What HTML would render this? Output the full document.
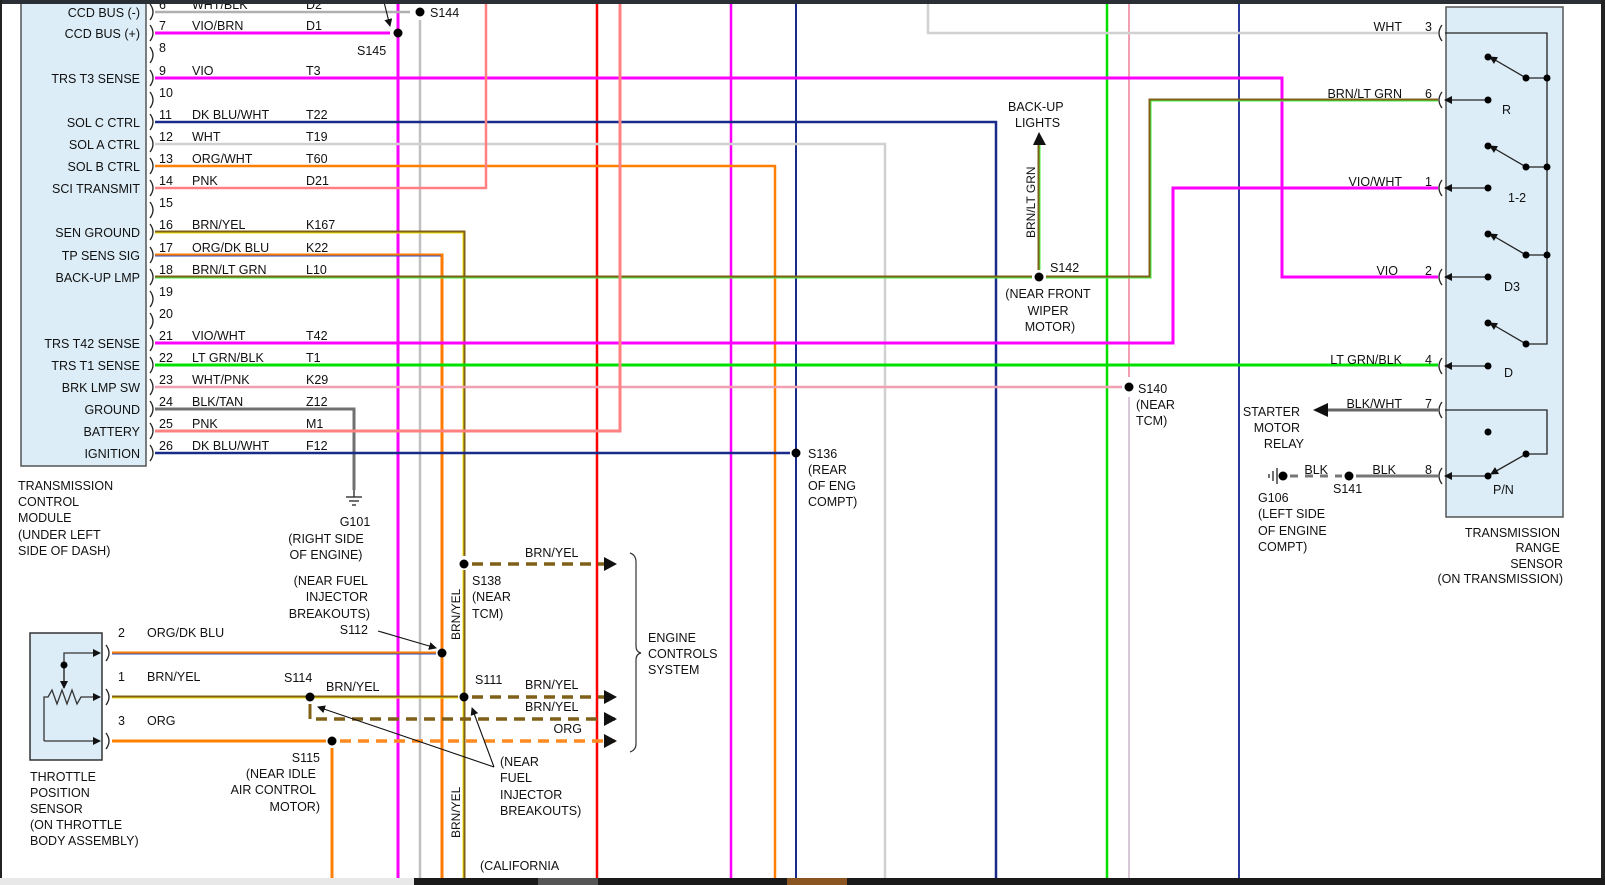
<!DOCTYPE html>
<html><head><meta charset="utf-8"><style>
html,body{margin:0;padding:0;background:#fff}
svg{display:block}
text{font-family:"Liberation Sans",Arial,sans-serif;font-size:12.5px;fill:#111}
</style></head><body>
<svg width="1605" height="885" viewBox="0 0 1605 885" xmlns="http://www.w3.org/2000/svg">
<defs>
<marker id="ah" markerWidth="8" markerHeight="8" refX="7" refY="4" orient="auto" markerUnits="userSpaceOnUse"><path d="M0,0 L8,4 L0,8 z" fill="#111"/></marker>
</defs>
<rect width="1605" height="885" fill="#fff"/>
<!-- boxes -->
<rect x="21" y="0" width="125" height="466" fill="#dcedf7" stroke="#555" stroke-width="1.5"/>
<rect x="1446" y="7" width="117" height="510" fill="#dcedf7" stroke="#555" stroke-width="1.5"/>
<rect x="30" y="633" width="72" height="127" fill="#dcedf7" stroke="#333" stroke-width="1.5"/>

<g fill="none" stroke-linejoin="miter">
<line x1="398" y1="3" x2="398" y2="885" stroke="#ff00ff" stroke-width="3"/>
<line x1="420" y1="20" x2="420" y2="885" stroke="#c0c0c0" stroke-width="2.5"/>
<line x1="597" y1="3" x2="597" y2="885" stroke="#ff0000" stroke-width="2.5"/>
<line x1="731" y1="3" x2="731" y2="885" stroke="#ff00ff" stroke-width="2.5"/>
<line x1="796" y1="3" x2="796" y2="885" stroke="#1a2a8a" stroke-width="2"/>
<line x1="1107" y1="3" x2="1107" y2="885" stroke="#00e000" stroke-width="2.5"/>
<line x1="1129" y1="3" x2="1129" y2="377" stroke="#f0a0b0" stroke-width="2"/>
<line x1="1129" y1="397" x2="1129" y2="885" stroke="#d8c8d8" stroke-width="2"/>
<line x1="1239" y1="3" x2="1239" y2="885" stroke="#2a3a9a" stroke-width="2"/>
<polyline points="928,3 928,33 1438,33" stroke="#d0d0d0" stroke-width="2.5"/>

<polyline points="155,12 410,12" stroke="#b0b0b0" stroke-width="2.5"/>
<polyline points="155,33 390,33" stroke="#ff00ff" stroke-width="3"/>
<polyline points="155,78 1282,78 1282,277 1438,277" stroke="#ff00ff" stroke-width="3"/>
<polyline points="155,122 996,122 996,885" stroke="#1a2a8a" stroke-width="2.5"/>
<polyline points="155,144 885,144 885,885" stroke="#d0d0d0" stroke-width="2.5"/>
<polyline points="155,166 775,166 775,885" stroke="#ff8000" stroke-width="2.5"/>
<polyline points="155,188 486,188 486,3" stroke="#ff8080" stroke-width="2.5"/>
<polyline points="155,232 464,232 464,556" stroke="#806018" stroke-width="3"/>
<polyline points="155,233 463,233 463,556" stroke="#f0e000" stroke-width="1"/>
<polyline points="155,255 442,255 442,885" stroke="#ff7a00" stroke-width="3"/>
<polyline points="155,256 441,256" stroke="#3050c0" stroke-width="1"/>
<polyline points="155,277 1032,277" stroke="#806018" stroke-width="3"/>
<polyline points="1046,277 1150,277 1150,100 1438,100" stroke="#806018" stroke-width="3"/>
<polyline points="155,278 1032,278" stroke="#40f040" stroke-width="1"/>
<polyline points="1046,278 1151,278 1151,101 1438,101" stroke="#40f040" stroke-width="1"/>
<line x1="1039" y1="270" x2="1039" y2="145" stroke="#806018" stroke-width="3"/>
<line x1="1040" y1="270" x2="1040" y2="145" stroke="#40f040" stroke-width="1"/>
<polyline points="155,343 1173,343 1173,188 1438,188" stroke="#ff00ff" stroke-width="3"/>
<polyline points="155,365 1438,365" stroke="#00e000" stroke-width="3"/>
<polyline points="155,387 1122,387" stroke="#f0a0b0" stroke-width="2.5"/>
<polyline points="155,409 354,409 354,490" stroke="#707070" stroke-width="3"/>
<polyline points="155,431 620,431 620,3" stroke="#ff8080" stroke-width="3"/>
<polyline points="155,453 790,453" stroke="#1a2a8a" stroke-width="2.5"/>

<polyline points="112,653 436,653" stroke="#ff7a00" stroke-width="3"/>
<polyline points="112,654 436,654" stroke="#3050c0" stroke-width="1"/>
<polyline points="112,697 458,697" stroke="#806018" stroke-width="3"/>
<polyline points="112,698 458,698" stroke="#f0e000" stroke-width="1"/>
<line x1="464" y1="570" x2="464" y2="885" stroke="#806018" stroke-width="3"/>
<line x1="463" y1="570" x2="463" y2="885" stroke="#f0e000" stroke-width="1"/>
<polyline points="112,741 326,741" stroke="#ff8000" stroke-width="3"/>
<line x1="332" y1="748" x2="332" y2="885" stroke="#ff8000" stroke-width="3"/>
<line x1="310" y1="704" x2="310" y2="719" stroke="#806018" stroke-width="3"/>
<g stroke-dasharray="11,7" stroke-width="3.5">
<line x1="472" y1="564" x2="615" y2="564" stroke="#806018"/>
<line x1="472" y1="697" x2="615" y2="697" stroke="#806018"/>
<line x1="316" y1="719" x2="615" y2="719" stroke="#806018"/>
<line x1="340" y1="741" x2="615" y2="741" stroke="#ff8a20"/>
</g>
<path d="M630,553 Q636,555 636,562 L636,646 Q636,652 641,653 Q636,654 636,660 L636,744 Q636,750 630,752" stroke="#333" stroke-width="1.2"/>

<line x1="1325" y1="410" x2="1438" y2="410" stroke="#666" stroke-width="3"/>
<line x1="1356" y1="476" x2="1438" y2="476" stroke="#777" stroke-width="3"/>
<line x1="1290" y1="476" x2="1342" y2="476" stroke="#777" stroke-width="3" stroke-dasharray="8,7"/>

<g stroke="#222" stroke-width="1.3">
<path d="M150,4 Q156,12 150,20"/><path d="M150,25 Q156,33 150,41"/><path d="M150,47 Q156,55 150,63"/>
<path d="M150,70 Q156,78 150,86"/><path d="M150,92 Q156,100 150,108"/><path d="M150,114 Q156,122 150,130"/>
<path d="M150,136 Q156,144 150,152"/><path d="M150,158 Q156,166 150,174"/><path d="M150,180 Q156,188 150,196"/>
<path d="M150,202 Q156,210 150,218"/><path d="M150,224 Q156,232 150,240"/><path d="M150,247 Q156,255 150,263"/>
<path d="M150,269 Q156,277 150,285"/><path d="M150,291 Q156,299 150,307"/><path d="M150,313 Q156,321 150,329"/>
<path d="M150,335 Q156,343 150,351"/><path d="M150,357 Q156,365 150,373"/><path d="M150,379 Q156,387 150,395"/>
<path d="M150,401 Q156,409 150,417"/><path d="M150,423 Q156,431 150,439"/><path d="M150,445 Q156,453 150,461"/>
<path d="M106,645 Q112,653 106,661"/><path d="M106,689 Q112,697 106,705"/><path d="M106,733 Q112,741 106,749"/>
<path d="M1442,25 Q1436,33 1442,41"/><path d="M1442,92 Q1436,100 1442,108"/><path d="M1442,180 Q1436,188 1442,196"/>
<path d="M1442,269 Q1436,277 1442,285"/><path d="M1442,358 Q1436,366 1442,374"/><path d="M1442,402 Q1436,410 1442,418"/>
<path d="M1442,468 Q1436,476 1442,484"/>
</g>

<g stroke="#333" stroke-width="1.3">
<polyline points="64,688 64,653 100,653" marker-end="url(#ah)"/>
<polyline points="44,741 44,697 48,697 52,690 57,704 62,690 67,704 72,690 77,704 81,697 100,697" marker-end="url(#ah)"/>
<polyline points="44,741 100,741" marker-end="url(#ah)"/>
<line x1="64" y1="665" x2="64" y2="688" marker-end="url(#ah)"/>
</g>

<g stroke="#222" stroke-width="1.3">
<polyline points="1445,33 1547,33 1547,344 1526,344"/>
<line x1="1526" y1="78" x2="1547" y2="78"/><line x1="1526" y1="167" x2="1547" y2="167"/><line x1="1526" y1="255" x2="1547" y2="255"/>
<line x1="1526" y1="78" x2="1490" y2="57" marker-end="url(#ah)"/>
<line x1="1526" y1="167" x2="1490" y2="146" marker-end="url(#ah)"/>
<line x1="1526" y1="255" x2="1490" y2="234" marker-end="url(#ah)"/>
<line x1="1526" y1="344" x2="1490" y2="323" marker-end="url(#ah)"/>
<line x1="1488" y1="100" x2="1445" y2="100" marker-end="url(#ah)"/>
<line x1="1488" y1="188" x2="1445" y2="188" marker-end="url(#ah)"/>
<line x1="1488" y1="277" x2="1445" y2="277" marker-end="url(#ah)"/>
<line x1="1488" y1="366" x2="1445" y2="366" marker-end="url(#ah)"/>
<polyline points="1445,410 1547,410 1547,454 1526,454"/>
<line x1="1526" y1="454" x2="1491" y2="474" marker-end="url(#ah)"/>
<line x1="1488" y1="476" x2="1445" y2="476" marker-end="url(#ah)"/>
</g>
<g stroke="#111" stroke-width="1.1">
<line x1="384" y1="2" x2="390" y2="26" marker-end="url(#ah)"/>
<line x1="378" y1="631" x2="436" y2="648" marker-end="url(#ah)"/>
<line x1="494" y1="767" x2="318" y2="707" marker-end="url(#ah)"/>
<line x1="494" y1="767" x2="472" y2="708" marker-end="url(#ah)"/>
</g>
</g>

<g fill="#111">
<path d="M604,557 L617,564 L604,571 z"/><path d="M604,690 L617,697 L604,704 z"/>
<path d="M604,712 L617,719 L604,726 z"/><path d="M604,734 L617,741 L604,748 z"/>
<path d="M1033,145 L1039,132 L1046,145 z"/>
<path d="M1328,403 L1313,410 L1328,417 z"/>
</g>
<g fill="#000">
<circle cx="420" cy="12" r="4.5"/><circle cx="398" cy="33" r="4.5"/>
<circle cx="1039" cy="277" r="4.5"/><circle cx="1129" cy="387" r="4.5"/><circle cx="796" cy="453" r="4.5"/>
<circle cx="1349" cy="476" r="4.5"/><circle cx="1283" cy="476" r="4.5"/>
<circle cx="464" cy="564" r="4.5"/><circle cx="442" cy="653" r="4.5"/><circle cx="464" cy="697" r="4.5"/>
<circle cx="310" cy="697" r="4.5"/><circle cx="332" cy="741" r="4.5"/>
<circle cx="64" cy="665" r="3.5"/>
<circle cx="1488" cy="57" r="3.5"/><circle cx="1526" cy="78" r="3.5"/><circle cx="1547" cy="78" r="3.5"/><circle cx="1488" cy="100" r="3.5"/>
<circle cx="1488" cy="146" r="3.5"/><circle cx="1526" cy="167" r="3.5"/><circle cx="1547" cy="167" r="3.5"/><circle cx="1488" cy="188" r="3.5"/>
<circle cx="1488" cy="234" r="3.5"/><circle cx="1526" cy="255" r="3.5"/><circle cx="1547" cy="255" r="3.5"/><circle cx="1488" cy="277" r="3.5"/>
<circle cx="1488" cy="323" r="3.5"/><circle cx="1526" cy="344" r="3.5"/><circle cx="1488" cy="366" r="3.5"/>
<circle cx="1488" cy="432" r="3.5"/><circle cx="1526" cy="454" r="3.5"/><circle cx="1488" cy="476" r="3.5"/>
</g>
<g stroke="#222" stroke-width="1.3">
<line x1="346" y1="497" x2="362" y2="497"/><line x1="349" y1="501" x2="359" y2="501"/><line x1="352" y1="505" x2="356" y2="505"/>
<line x1="354" y1="490" x2="354" y2="497"/>
<line x1="1277" y1="468" x2="1277" y2="484"/><line x1="1273" y1="471" x2="1273" y2="481"/><line x1="1269" y1="474" x2="1269" y2="478"/>
</g>

<g text-anchor="end">
<text x="140" y="17">CCD BUS (-)</text><text x="140" y="38">CCD BUS (+)</text>
<text x="140" y="83">TRS T3 SENSE</text><text x="140" y="127">SOL C CTRL</text>
<text x="140" y="149">SOL A CTRL</text><text x="140" y="171">SOL B CTRL</text>
<text x="140" y="193">SCI TRANSMIT</text><text x="140" y="237">SEN GROUND</text>
<text x="140" y="260">TP SENS SIG</text><text x="140" y="282">BACK-UP LMP</text>
<text x="140" y="348">TRS T42 SENSE</text><text x="140" y="370">TRS T1 SENSE</text>
<text x="140" y="392">BRK LMP SW</text><text x="140" y="414">GROUND</text>
<text x="140" y="436">BATTERY</text><text x="140" y="458">IGNITION</text>
</g>
<g>
<text x="159" y="9">6</text><text x="192" y="9">WHT/BLK</text><text x="306" y="9">D2</text>
<text x="159" y="30">7</text><text x="192" y="30">VIO/BRN</text><text x="306" y="30">D1</text>
<text x="159" y="52">8</text>
<text x="159" y="75">9</text><text x="192" y="75">VIO</text><text x="306" y="75">T3</text>
<text x="159" y="97">10</text>
<text x="159" y="119">11</text><text x="192" y="119">DK BLU/WHT</text><text x="306" y="119">T22</text>
<text x="159" y="141">12</text><text x="192" y="141">WHT</text><text x="306" y="141">T19</text>
<text x="159" y="163">13</text><text x="192" y="163">ORG/WHT</text><text x="306" y="163">T60</text>
<text x="159" y="185">14</text><text x="192" y="185">PNK</text><text x="306" y="185">D21</text>
<text x="159" y="207">15</text>
<text x="159" y="229">16</text><text x="192" y="229">BRN/YEL</text><text x="306" y="229">K167</text>
<text x="159" y="252">17</text><text x="192" y="252">ORG/DK BLU</text><text x="306" y="252">K22</text>
<text x="159" y="274">18</text><text x="192" y="274">BRN/LT GRN</text><text x="306" y="274">L10</text>
<text x="159" y="296">19</text><text x="159" y="318">20</text>
<text x="159" y="340">21</text><text x="192" y="340">VIO/WHT</text><text x="306" y="340">T42</text>
<text x="159" y="362">22</text><text x="192" y="362">LT GRN/BLK</text><text x="306" y="362">T1</text>
<text x="159" y="384">23</text><text x="192" y="384">WHT/PNK</text><text x="306" y="384">K29</text>
<text x="159" y="406">24</text><text x="192" y="406">BLK/TAN</text><text x="306" y="406">Z12</text>
<text x="159" y="428">25</text><text x="192" y="428">PNK</text><text x="306" y="428">M1</text>
<text x="159" y="450">26</text><text x="192" y="450">DK BLU/WHT</text><text x="306" y="450">F12</text>
</g>
<text x="430" y="17">S144</text><text x="357" y="55">S145</text>
<text x="18" y="490">TRANSMISSION</text><text x="18" y="506">CONTROL</text><text x="18" y="522">MODULE</text>
<text x="18" y="539">(UNDER LEFT</text><text x="18" y="555">SIDE OF DASH)</text>
<g text-anchor="middle"><text x="355" y="526">G101</text><text x="326" y="543">(RIGHT SIDE</text><text x="326" y="559">OF ENGINE)</text></g>
<g text-anchor="end"><text x="368" y="585">(NEAR FUEL</text><text x="368" y="601">INJECTOR</text><text x="370" y="618">BREAKOUTS)</text><text x="368" y="634">S112</text></g>
<text x="472" y="585">S138</text><text x="472" y="601">(NEAR</text><text x="472" y="618">TCM)</text>
<text transform="translate(460,640) rotate(-90)" style="font-size:12px">BRN/YEL</text>
<text transform="translate(460,838) rotate(-90)" style="font-size:12px">BRN/YEL</text>
<text x="525" y="557">BRN/YEL</text>
<text x="118" y="637">2</text><text x="147" y="637">ORG/DK BLU</text>
<text x="118" y="681">1</text><text x="147" y="681">BRN/YEL</text>
<text x="118" y="725">3</text><text x="147" y="725">ORG</text>
<text x="284" y="682">S114</text><text x="326" y="691">BRN/YEL</text>
<text x="475" y="684">S111</text><text x="525" y="689">BRN/YEL</text><text x="525" y="711">BRN/YEL</text>
<text x="582" y="733" text-anchor="end">ORG</text>
<text x="648" y="642">ENGINE</text><text x="648" y="658">CONTROLS</text><text x="648" y="674">SYSTEM</text>
<g text-anchor="end"><text x="320" y="762">S115</text><text x="316" y="778">(NEAR IDLE</text><text x="316" y="794">AIR CONTROL</text><text x="320" y="811">MOTOR)</text></g>
<text x="500" y="766">(NEAR</text><text x="500" y="782">FUEL</text><text x="500" y="799">INJECTOR</text><text x="500" y="815">BREAKOUTS)</text>
<text x="480" y="870">(CALIFORNIA</text>
<text x="30" y="781">THROTTLE</text><text x="30" y="797">POSITION</text><text x="30" y="813">SENSOR</text>
<text x="30" y="829">(ON THROTTLE</text><text x="30" y="845">BODY ASSEMBLY)</text>
<text x="808" y="458">S136</text><text x="808" y="474">(REAR</text><text x="808" y="490">OF ENG</text><text x="808" y="506">COMPT)</text>
<text x="1008" y="111">BACK-UP</text><text x="1015" y="127">LIGHTS</text>
<text transform="translate(1035,238) rotate(-90)" style="font-size:12px">BRN/LT GRN</text>
<text x="1050" y="272">S142</text>
<g text-anchor="middle"><text x="1048" y="298">(NEAR FRONT</text><text x="1048" y="315">WIPER</text><text x="1050" y="331">MOTOR)</text></g>
<text x="1138" y="393">S140</text><text x="1136" y="409">(NEAR</text><text x="1136" y="425">TCM)</text>
<g text-anchor="end">
<text x="1402" y="31">WHT</text><text x="1402" y="98">BRN/LT GRN</text><text x="1402" y="186">VIO/WHT</text>
<text x="1398" y="275">VIO</text><text x="1402" y="364">LT GRN/BLK</text><text x="1402" y="408">BLK/WHT</text>
<text x="1396" y="474">BLK</text><text x="1328" y="474">BLK</text>
<text x="1432" y="31">3</text><text x="1432" y="98">6</text><text x="1432" y="186">1</text><text x="1432" y="275">2</text>
<text x="1432" y="364">4</text><text x="1432" y="408">7</text><text x="1432" y="474">8</text>
<text x="1300" y="416">STARTER</text><text x="1300" y="432">MOTOR</text><text x="1304" y="448">RELAY</text>
<text x="1560" y="537">TRANSMISSION</text><text x="1560" y="552">RANGE</text><text x="1563" y="568">SENSOR</text><text x="1563" y="583">(ON TRANSMISSION)</text>
</g>
<text x="1258" y="502">G106</text><text x="1258" y="518">(LEFT SIDE</text><text x="1258" y="535">OF ENGINE</text><text x="1258" y="551">COMPT)</text>
<text x="1333" y="493">S141</text>
<text x="1502" y="114">R</text><text x="1508" y="202">1-2</text><text x="1504" y="291">D3</text><text x="1504" y="377">D</text><text x="1493" y="494">P/N</text>

<rect x="0" y="0" width="1605" height="4" fill="#2a2e35"/>
<rect x="0" y="0" width="2" height="885" fill="#222"/>
<rect x="1601" y="0" width="4" height="885" fill="#222"/>
<rect x="0" y="878" width="414" height="7" fill="#e8e8e8"/>
<rect x="414" y="878" width="1191" height="7" fill="#1a1a1a"/>
<rect x="538" y="878" width="60" height="7" fill="#555"/>
<rect x="787" y="878" width="60" height="7" fill="#8a5520"/>
</svg>
</body></html>
